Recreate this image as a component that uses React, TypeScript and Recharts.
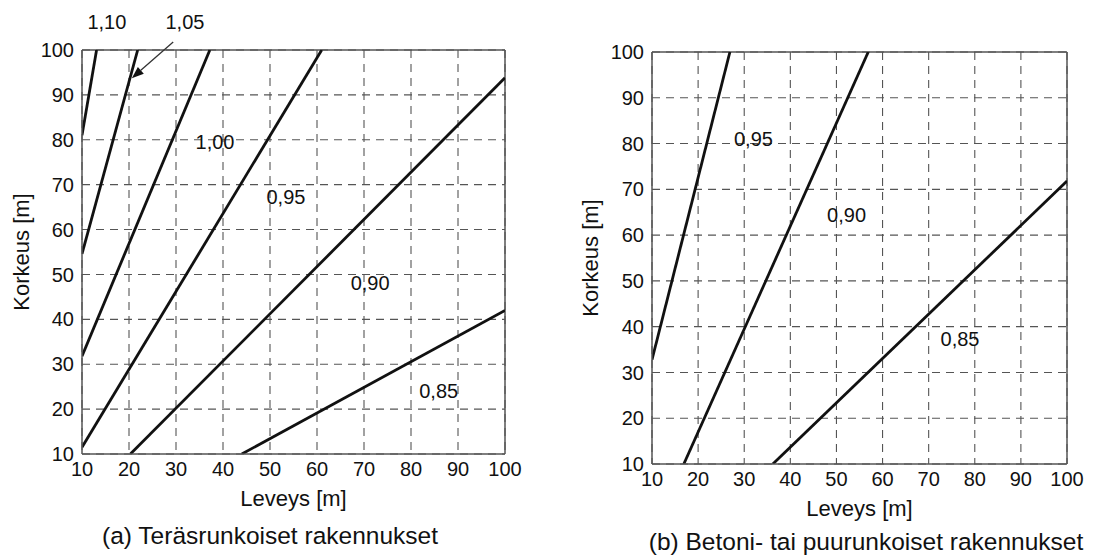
import React from 'react';
import { LineChart, Line, XAxis, YAxis, CartesianGrid, ReferenceLine, ReferenceDot } from 'recharts';

const TICKS = [10, 20, 30, 40, 50, 60, 70, 80, 90, 100];

const STEEL_110 = [{ x: 10, y: 81 }, { x: 13.1, y: 100 }];
const STEEL_105 = [{ x: 10, y: 54.6 }, { x: 21.85, y: 100 }];
const STEEL_100 = [{ x: 10, y: 31.8 }, { x: 37.2, y: 100 }];
const STEEL_095 = [{ x: 10, y: 11.5 }, { x: 61, y: 100 }];
const STEEL_090 = [{ x: 20.3, y: 10 }, { x: 100, y: 93.8 }];
const STEEL_085 = [{ x: 44, y: 10 }, { x: 100, y: 42 }];
const STEEL_LINES = [STEEL_110, STEEL_105, STEEL_100, STEEL_095, STEEL_090, STEEL_085];

// (b) concrete / timber frames
const CONC_095 = [{ x: 10, y: 32.8 }, { x: 26.9, y: 100 }];
const CONC_090 = [{ x: 16.9, y: 10 }, { x: 56.9, y: 100 }];
const CONC_085 = [{ x: 36.2, y: 10 }, { x: 100, y: 71.8 }];
const CONC_LINES = [CONC_095, CONC_090, CONC_085];

// curve labels (data coordinates)
const STEEL_LABELS = [
    { x: 15.3, y: 106.2, text: '1,10' },
    { x: 31.9, y: 106.2, text: '1,05' },
    { x: 38.3, y: 79.5, text: '1,00' },
    { x: 53.4, y: 67.2, text: '0,95' },
    { x: 71.3, y: 48.1, text: '0,90' },
    { x: 85.9, y: 24.0, text: '0,85' },
];
const STEEL_ARROW = [{ x: 29.4, y: 101.8 }, { x: 20.6, y: 93.7 }];

const CONC_LABELS = [
    { x: 32.0, y: 81.1, text: '0,95' },
    { x: 52.2, y: 64.4, text: '0,90' },
    { x: 76.8, y: 37.4, text: '0,85' },
];

const FONT = 'Liberation Sans, Arial, Helvetica, sans-serif';
const INK = '#111';
const GRID = '#555';
const FRAME = '#555';

const Arrow = (p: any) => {
    const { x1, y1, x2, y2 } = p;
    const dx = x2 - x1;
    const dy = y2 - y1;
    const len = Math.sqrt(dx * dx + dy * dy);
    const ux = dx / len;
    const uy = dy / len;
    const hl = 12;
    const hw = 4.5;
    const bx = x2 - ux * hl;
    const by = y2 - uy * hl;
    return (
        <g>
            <line x1={x1} y1={y1} x2={bx} y2={by} stroke="#333" strokeWidth={1.3} />
            <polygon points={`${x2},${y2} ${bx - uy * hw},${by + ux * hw} ${bx + uy * hw},${by - ux * hw}`} fill={INK} />
        </g>
    );
};

type PanelProps = {
    lines: { x: number; y: number }[][];
    labels: { x: number; y: number; text: string }[];
    arrow?: { x: number; y: number }[];
    width: number;
    height: number;
    margin: { top: number; right: number; bottom: number; left: number };
    yAxisWidth: number;
    yLabelOffset: number;
};

function Panel({ lines, labels, arrow, width, height, margin, yAxisWidth, yLabelOffset }: PanelProps) {
    return (
        <LineChart width={width} height={height} margin={margin} style={{ fontFamily: FONT }}>
            <CartesianGrid stroke={GRID} strokeDasharray="8 6" strokeWidth={1.1} />
            <XAxis type="number" dataKey="x" domain={[10, 100]} ticks={TICKS} allowDataOverflow
                height={30} tickLine={false} axisLine={{ stroke: FRAME, strokeWidth: 1.5 }}
                tick={{ fill: INK, fontSize: 20 }}
                label={{ value: 'Leveys [m]', position: 'bottom', offset: 6, fill: INK, fontSize: 22 }} />
            <YAxis type="number" domain={[10, 100]} ticks={TICKS} allowDataOverflow width={yAxisWidth}
                tickLine={false} axisLine={{ stroke: FRAME, strokeWidth: 1.5 }}
                tick={{ fill: INK, fontSize: 20 }}
                label={{ value: 'Korkeus [m]', angle: -90, position: 'insideLeft', offset: yLabelOffset, fill: INK, fontSize: 22, style: { textAnchor: 'middle' } }} />
            <ReferenceLine x={100} stroke={FRAME} strokeWidth={1.5} />
            <ReferenceLine y={100} stroke={FRAME} strokeWidth={1.5} />
            {lines.map((d, i) => (
                <Line key={i} data={d} dataKey="y" stroke={INK} strokeWidth={2.8} dot={false} isAnimationActive={false} />
            ))}
            {arrow && (
                <ReferenceLine segment={arrow} ifOverflow="visible" shape={Arrow} />
            )}
            {labels.map((l, i) => (
                <ReferenceDot key={i} x={l.x} y={l.y} r={0} fill="none" stroke="none" ifOverflow="visible"
                    label={{ value: l.text, position: 'center', fill: INK, fontSize: 20 }} />
            ))}
        </LineChart>
    );
}

export default function App() {
    const caption: React.CSSProperties = {
        position: 'absolute', fontFamily: FONT, fontSize: 24.5, lineHeight: 1, color: INK,
        whiteSpace: 'nowrap', transform: 'translateX(-50%)',
    };
    return (
        <div style={{ position: 'absolute', left: 0, top: 0, width: 1098, height: 556, background: '#fff', overflow: 'hidden' }}>
            <div style={{ position: 'absolute', left: 0, top: 0 }}>
                <Panel lines={STEEL_LINES} labels={STEEL_LABELS} arrow={STEEL_ARROW}
                    width={549} height={556} margin={{ top: 50, right: 44, bottom: 72, left: 0 }}
                    yAxisWidth={82} yLabelOffset={21} />
            </div>
            <div style={{ position: 'absolute', left: 560, top: 0 }}>
                <Panel lines={CONC_LINES} labels={CONC_LABELS}
                    width={538} height={556} margin={{ top: 52, right: 31, bottom: 62, left: 0 }}
                    yAxisWidth={92} yLabelOffset={30} />
            </div>
            <div style={{ ...caption, left: 270, top: 524 }}>(a) Teräsrunkoiset rakennukset</div>
            <div style={{ ...caption, left: 866, top: 530 }}>(b) Betoni- tai puurunkoiset rakennukset</div>
        </div>
    );
}
